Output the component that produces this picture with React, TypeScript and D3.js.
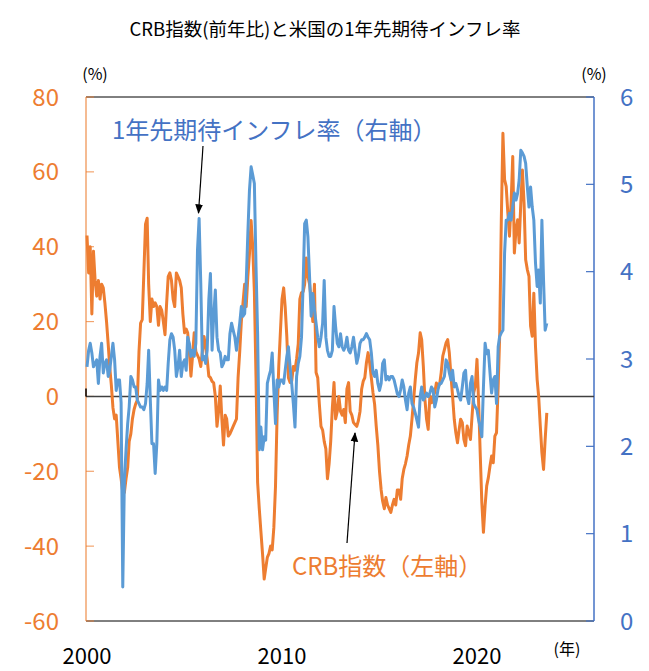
import React from 'react';
import * as d3 from 'd3';

// monthly series, first value = Jan 2000
const startMonth = '2000-01';

// CRB index, year-on-year change (%), left axis
const crbYoY = [
  43, 33, 40, 22, 38.8, 31, 26.8, 31, 26, 30,
  29, 25, 20, 14, 8, 3, -3, -6, -5, -12,
  -19, -22, -25.7, -25.7, -22, -19, -12, -10, -6, -3.5,
  -2, -1, 12, 19.6, 20.5, 33, 46, 47.6, 30, 20,
  26, 24, 25, 24, 19, 24, 23, 20, 16.5, 25,
  32, 33, 31, 26, 24, 33, 32, 31, 29, 22,
  17, 18, 17, 12, 5.4, 11, 17, 12, 11, 10,
  8, 12, 16, 13, 10, 5.4, 5, 4, 3.6, 0,
  -8, -4, 2.8, -6, -13, -5, -6, -10.6, -10, -9,
  -8, -7, -6, 5, 12, 20, 25, 30, 24, 32,
  38, 47, 40, 28, 5, -23, -30, -36, -42, -48.8,
  -46, -43, -42, -40, -41, -35, -24, -5, 8, 17,
  26, 29, 24, 16, 5, 3.7, 4, 8, 7, 10,
  14, 26, 27.7, 28, 30, 37, 32, 30, 26, 20,
  30, 6.4, 5, -2, -8, -9, -12, -14, -22, -18,
  -12, -3, 3.7, -6, -4, 0, -4, -5, -3.5, -7,
  2, 3.7, -4, -5, -7, -7.5, -8, -6.5, -4, 2,
  4, 5, 9, 11.7, 9, 5, 1, -2, -8, -13,
  -20, -25, -28, -30, -27, -29, -30, -31, -29, -27.5,
  -29, -25, -25, -27.5, -22, -19.5, -18, -15.9, -13, -10.6,
  -6, -1, 4.5, 9, 11.6, 17, 15.2, 8.1, -0.8, -6.1,
  -8.8, 0.1, -1.7, 0.1, 1, 3.6, 2.8, 3.2, 6.3, 10.8,
  12.5, 14.3, 15.2, 11.6, 5.4, 0.1, -6.1, -9.7, -12.4, -8.8,
  -6.1, -7, -11.5, -13.2, -7.9, -9.7, -11.5, -5.2, 1, 2.8,
  9.9, -1.7, -15, -28.4, -36.3, -29.2, -23.9, -21.7, -18.6, -15.9,
  -17.7, -10.6, -9.7, 2.8, 16.1, 47.2, 70.3, 57.9, 56.1, 49,
  42.8, 51.6, 64.1, 38.3, 44.5, 47.2, 41, 51.6, 60.5, 51.6,
  36.5, 33.9, 32.1, 18.8, 16.1, 27.6, 13.4, 4.5, 0.1, -7.9,
  -15, -19.5, -11.5, -4.4,
];

// US 1-year-ahead inflation expectations (%), right axis
const inflExp = [
  2.91, 3.1, 3.18, 3.07, 2.91, 2.95, 2.99, 2.72, 3.03, 3.18,
  2.84, 2.95, 2.99, 2.8, 2.87, 3.03, 3.18, 2.99, 2.64, 2.76,
  2.76, 2.5, 0.39, 1.6, 1.96, 2.26, 2.45, 2.8, 2.76, 2.68,
  2.68, 2.53, 2.49, 2.45, 2.45, 2.42, 2.49, 2.72, 3.1, 2.53,
  2.03, 2.03, 1.69, 2.03, 2.76, 2.64, 2.68, 2.64, 2.68, 2.64,
  2.95, 3.22, 3.29, 3.25, 3.1, 2.8, 2.91, 3.1, 2.8, 2.95,
  2.99, 2.87, 3.25, 3.18, 3.03, 3.1, 3.03, 3.18, 4.25, 4.61,
  3.87, 2.99, 3.03, 2.95, 3.1, 3.68, 3.98, 3.1, 3.49, 3.79,
  3.25, 3.1, 3.07, 2.91, 2.95, 3.03, 2.99, 2.99, 3.29, 3.41,
  3.33, 3.25, 3.1, 3.25, 3.41, 3.6, 3.49, 3.52, 3.87, 4.44,
  4.93, 5.2, 5.11, 5.01, 4.06, 3.29, 1.96, 2.22, 1.96, 2.11,
  2.07, 2.72, 2.8, 2.87, 3.07, 2.64, 2.26, 2.76, 2.68, 2.76,
  2.76, 2.72, 2.87, 3.03, 3.14, 2.91, 2.72, 2.49, 2.22, 2.8,
  2.95, 3.03, 3.25, 3.87, 4.55, 4.59, 4.4, 3.94, 3.49, 3.75,
  3.56, 3.41, 3.25, 3.14, 3.25, 3.41, 3.9, 3.25, 3.1, 3.03,
  3.03, 3.1, 3.6, 3.37, 3.18, 3.14, 3.29, 3.14, 3.1, 3.14,
  3.25, 3.1, 3.07, 3.14, 3.25, 3.1, 2.95, 3.03, 3.18, 3.22,
  3.22, 3.25, 3.29, 3.25, 3.22, 3.07, 2.84, 2.8, 2.87, 2.72,
  2.64, 2.72, 2.95, 2.99, 2.76, 2.8, 2.76, 2.8, 2.8, 2.76,
  2.68, 2.6, 2.57, 2.65, 2.76, 2.68, 2.53, 2.42, 2.61, 2.68,
  2.49, 2.45, 2.38, 2.3, 2.22, 2.57, 2.68, 2.53, 2.57, 2.61,
  2.57, 2.61, 2.68, 2.65, 2.45, 2.53, 2.65, 2.72, 2.72, 2.76,
  2.8, 2.99, 2.95, 2.84, 2.76, 2.87, 2.68, 2.72, 2.65, 2.57,
  2.53, 2.68, 2.84, 2.87, 2.57, 2.49, 2.72, 2.8, 2.49, 2.45,
  2.42, 2.3, 2.22, 2.11, 2.68, 3.18, 3.06, 3.1, 2.84, 2.61,
  2.76, 2.8, 2.49, 3.14, 3.26, 3.3, 3.33, 4.21, 4.59, 4.59,
  4.67, 4.59, 4.74, 4.9, 4.82, 4.9, 5.05, 5.39, 5.36, 5.32,
  5.24, 4.97, 4.74, 4.97, 4.74, 4.59, 4.1, 3.83, 4.02, 3.64,
  4.59, 3.9, 3.33, 3.41,
];

const leftTicks = [-60, -40, -20, 0, 20, 40, 60, 80];
const rightTicks = [0, 1, 2, 3, 4, 5, 6];
const yearTicks = [2000, 2010, 2020];

const ORANGE = '#ED7D31';
const BLUE = '#5B9BD5';
const BLUE_TEXT = '#4472C4';
const FONT = '"Noto Sans CJK JP", "Noto Sans", sans-serif';

export default function App() {
  const width = 649;
  const height = 671;
  const plot = { left: 86, right: 594, top: 97, bottom: 621 };

  const start = d3.timeParse('%Y-%m')(startMonth) as Date;
  const monthOf = (i: number) => d3.timeMonth.offset(start, i);

  const x = d3
    .scaleTime()
    .domain([new Date(2000, 0, 1), new Date(2026, 0, 1)])
    .range([plot.left + 1, plot.right]);
  const yLeft = d3.scaleLinear().domain([-60, 80]).range([plot.bottom, plot.top]);
  const yRight = d3.scaleLinear().domain([0, 6]).range([plot.bottom, plot.top]);

  const crbLine = d3
    .line<number>()
    .x((_, i) => x(monthOf(i)))
    .y((d) => yLeft(d));
  const inflLine = d3
    .line<number>()
    .x((_, i) => x(monthOf(i)))
    .y((d) => yRight(d));

  return (
    <svg
      width={width}
      height={height}
      style={{ position: 'absolute', left: 0, top: 0, background: '#fff' }}
      fontFamily={FONT}
    >
      <defs>
        <marker id="arrow" viewBox="0 0 10 10" refX="9" refY="5" markerWidth="8" markerHeight="8" orient="auto">
          <path d="M0,1 L10,5 L0,9 z" fill="#000" />
        </marker>
      </defs>

      <text x={325} y={36} textAnchor="middle" fontSize={18.5} fill="#000">
        CRB指数(前年比)と米国の1年先期待インフレ率
      </text>

      {/* frame */}
      <line x1={plot.left} x2={plot.right} y1={plot.top} y2={plot.top} stroke="#000" strokeWidth={1} />
      <line x1={plot.left} x2={plot.right} y1={plot.bottom} y2={plot.bottom} stroke="#000" strokeWidth={1} />

      {/* left axis */}
      <line x1={plot.left} x2={plot.left} y1={plot.top} y2={plot.bottom} stroke={ORANGE} strokeOpacity={0.7} strokeWidth={1.5} />
      {leftTicks.map((t) => (
        <g key={`l${t}`}>
          <line x1={plot.left} x2={plot.left + 8} y1={yLeft(t)} y2={yLeft(t)} stroke={ORANGE} strokeOpacity={0.7} strokeWidth={1.2} />
          <text x={59} y={yLeft(t)} dy="0.36em" textAnchor="end" fontSize={24} fill={ORANGE}>
            {t}
          </text>
        </g>
      ))}

      {/* right axis */}
      <line x1={plot.right} x2={plot.right} y1={plot.top} y2={plot.bottom} stroke={BLUE_TEXT} strokeWidth={1.5} />
      {rightTicks.map((t) => (
        <g key={`r${t}`}>
          <line x1={plot.right - 8} x2={plot.right} y1={yRight(t)} y2={yRight(t)} stroke={BLUE_TEXT} strokeWidth={1.2} />
          <text x={620} y={yRight(t)} dy="0.36em" textAnchor="start" fontSize={24} fill={BLUE_TEXT}>
            {t}
          </text>
        </g>
      ))}

      {/* zero line */}
      <line x1={plot.left} x2={plot.right} y1={yLeft(0)} y2={yLeft(0)} stroke="#404040" strokeWidth={1.5} />
      <line x1={plot.left} x2={plot.left} y1={yLeft(0) - 8} y2={yLeft(0)} stroke="#000" strokeWidth={1.5} />

      {/* x labels */}
      {yearTicks.map((yr) => (
        <text key={yr} x={x(new Date(yr, 0, 1))} y={664} textAnchor="middle" fontSize={22} fill="#000">
          {yr}
        </text>
      ))}

      <text x={95} y={80} textAnchor="middle" fontSize={16} fill="#000">(%)</text>
      <text x={594} y={80} textAnchor="middle" fontSize={16} fill="#000">(%)</text>
      <text x={567} y={655} textAnchor="middle" fontSize={16} fill="#000">(年)</text>

      {/* series */}
      <path d={crbLine(crbYoY) ?? ''} fill="none" stroke={ORANGE} strokeWidth={3} strokeLinejoin="round" />
      <path d={inflLine(inflExp) ?? ''} fill="none" stroke={BLUE} strokeWidth={3} strokeLinejoin="round" />

      {/* annotations */}
      <text x={112} y={139} fontSize={24} fill={BLUE_TEXT}>
        1年先期待インフレ率（右軸）
      </text>
      <line x1={203} y1={146} x2={198.5} y2={213} stroke="#000" strokeWidth={1.2} markerEnd="url(#arrow)" />

      <text x={292} y={575} fontSize={24} fill={ORANGE}>
        CRB指数（左軸）
      </text>
      <line x1={347} y1={543} x2={355} y2={433} stroke="#000" strokeWidth={1.2} markerEnd="url(#arrow)" />
    </svg>
  );
}
